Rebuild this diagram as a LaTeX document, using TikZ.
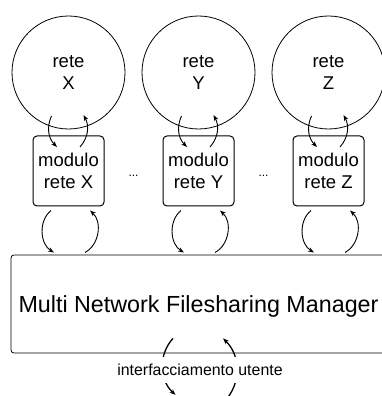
\documentclass[tikz,border=0pt]{standalone}
\usepackage{fontspec}
\setmainfont{Liberation Sans}
\usetikzlibrary{arrows.meta,calc}

\begin{document}
\begin{tikzpicture}[x=1pt,y=1pt,
  rete/.style={circle,draw,line width=0.8pt,minimum size=113pt,inner sep=0pt,
    align=center,font=\fontsize{18.5}{22.5}\selectfont},
  modulo/.style={draw,line width=1pt,rounded corners=4pt,minimum width=71pt,
    minimum height=70pt,inner sep=0pt,align=center,font=\fontsize{18.5}{22.5}\selectfont},
  gestore/.style={draw,line width=0.8pt,rounded corners=3pt,minimum width=375pt,
    minimum height=98pt,inner sep=0pt,text depth=0pt,font=\fontsize{23.3}{28}\selectfont},
  puntini/.style={inner sep=0pt,font=\fontsize{12}{14}\selectfont},
  flusso/.style={line width=0.9pt,-{Stealth[length=6pt,width=4.5pt]}},
  utente/.style={flusso,line width=1.3pt},
]
\useasboundingbox (0,0) rectangle (382,396);

% networks and their modules
\foreach \n/\x in {X/68.5,Y/198.5,Z/328.5}{
  \node[rete]   (c\n) at (\x,323.5) {rete\\\n};
  \node[modulo] (m\n) at (\x,225)   {modulo\\rete \n};
}

% central manager
\node[gestore] (mgr) at (198.5,92) {Multi Network Filesharing Manager};

% ellipses between modules
\node[puntini] (d1) at ($(mX)!0.5!(mY)+(0,-5)$) {...};
\node[puntini] (d2) at ($(mY)!0.5!(mZ)+(0,-5)$) {...};

% exchanges network <-> module <-> manager
\foreach \n in {X,Y,Z}{
  \draw[flusso] ($(c\n.center)+(-17,-43.5)$) to[bend right=35] ($(m\n.center)+(-11.5,24)$);
  \draw[flusso] ($(m\n.center)+(11.5,24)$) to[bend right=35] ($(c\n.center)+(15,-42.5)$);
  \draw[flusso] ($(m\n.south)+(-17.5,-4)$) to[bend right=55] ($(m\n.south)+(-14.5,-46)$);
  \draw[flusso] ($(m\n.south)+(16.5,-46)$) to[bend right=55] ($(m\n.south)+(21.5,-4)$);
}

% user interface exchange
\draw[utente] ($(mgr.south)+(-25.5,15)$) to[bend right=45] ($(mgr.south)+(-23,-41.5)$);
\draw[utente] ($(mgr.south)+(26,-48)$) to[bend right=45] ($(mgr.south)+(24.5,15)$);
\node[fill=white,inner xsep=2pt,inner ysep=7pt,font=\fontsize{15.9}{19}\selectfont]
  (ui) at (200,26) {interfacciamento utente};
\end{tikzpicture}
\end{document}
